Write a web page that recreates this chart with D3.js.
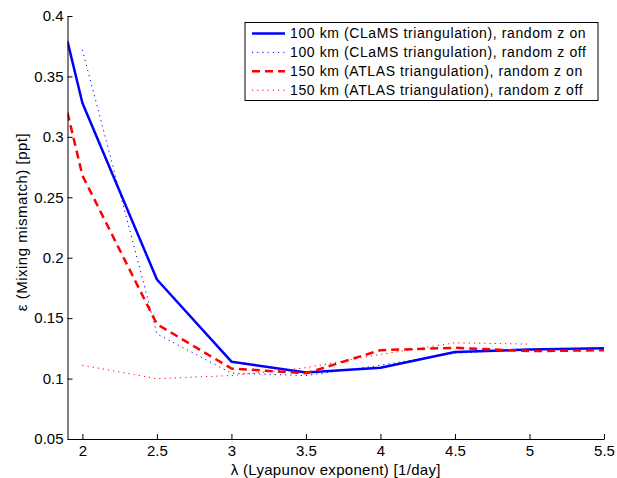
<!DOCTYPE html>
<html>
<head>
<meta charset="utf-8">
<script src="https://cdn.jsdelivr.net/npm/d3@7"></script>
<style>
  body { margin: 0; background: #fff; }
  svg { font-family: "Liberation Sans", Arial, sans-serif; }
</style>
</head>
<body>
<div id="chart"></div>
<script>
// Lyapunov exponent values (x) for each series
const xOn = [1.9, 2, 2.5, 3, 3.5, 4, 4.5, 5, 5.5];
const xOff100 = [2, 2.5, 3, 3.5, 4, 4.5, 5, 5.5];
const xOff150 = [2, 2.5, 3, 3.5, 4, 4.5, 5];

// Mixing mismatch values (ppt)
const clamsOn = [0.379, 0.328, 0.182, 0.114, 0.105, 0.109, 0.122, 0.124, 0.125];
const clamsOff = [0.372, 0.137, 0.1045, 0.1025, 0.111, 0.121, 0.124, 0.125];
const atlasOn = [0.320, 0.268, 0.145, 0.1083, 0.1044, 0.1235, 0.1255, 0.1227, 0.1235];
const atlasOff = [0.111, 0.0999, 0.1025, 0.109, 0.120, 0.1296, 0.1285];

const xTicks = [2, 2.5, 3, 3.5, 4, 4.5, 5, 5.5];
const xTickLabels = ["2", "2.5", "3", "3.5", "4", "4.5", "5", "5.5"];
const yTicks = [0.05, 0.1, 0.15, 0.2, 0.25, 0.3, 0.35, 0.4];
const yTickLabels = ["0.05", "0.1", "0.15", "0.2", "0.25", "0.3", "0.35", "0.4"];

const series = [
    { name: "100 km (CLaMS triangulation), random z on", xs: xOn, ys: clamsOn, color: "#0000ff", width: 2.5, dash: null },
    { name: "100 km (CLaMS triangulation), random z off", xs: xOff100, ys: clamsOff, color: "#0000ff", width: 1, dash: "1.2,4" },
    { name: "150 km (ATLAS triangulation), random z on", xs: xOn, ys: atlasOn, color: "#ff0000", width: 2.5, dash: "8,5" },
    { name: "150 km (ATLAS triangulation), random z off", xs: xOff150, ys: atlasOff, color: "#ff0000", width: 1, dash: "1.2,4" }
];

const width = 617;
const height = 478;
const m = { top: 16, right: 13, bottom: 39, left: 67.5 };

const svg = d3.select("#chart").append("svg")
    .attr("width", width)
    .attr("height", height);

const x = d3.scaleLinear().domain([1.9, 5.5]).range([m.left, width - m.right]);
const y = d3.scaleLinear().domain([0.05, 0.4]).range([height - m.bottom, m.top]);

// Clip lines to the plot area
svg.append("clipPath").attr("id", "plot-clip")
    .append("rect")
    .attr("x", m.left).attr("y", m.top)
    .attr("width", width - m.right - m.left)
    .attr("height", height - m.bottom - m.top);

const line = d3.line()
    .x(d => x(d[0]))
    .y(d => y(d[1]));

const linesGroup = svg.append("g").attr("clip-path", "url(#plot-clip)");

series.forEach(s => {
    linesGroup.append("path")
        .datum(s.xs.map((v, i) => [v, s.ys[i]]))
        .attr("fill", "none")
        .attr("stroke", s.color)
        .attr("stroke-width", s.width)
        .attr("stroke-dasharray", s.dash)
        .attr("stroke-linejoin", "round")
        .attr("d", line);
});

// Axes, MATLAB style: ticks pointing inward
const xAxis = svg.append("g")
    .attr("transform", `translate(0, ${height - m.bottom})`)
    .call(d3.axisBottom(x)
        .tickValues(xTicks)
        .tickFormat((d, i) => xTickLabels[i])
        .tickSizeInner(-5)
        .tickSizeOuter(0)
        .tickPadding(6));

const yAxis = svg.append("g")
    .attr("transform", `translate(${m.left}, 0)`)
    .call(d3.axisLeft(y)
        .tickValues(yTicks)
        .tickFormat((d, i) => yTickLabels[i])
        .tickSizeInner(-5)
        .tickSizeOuter(0)
        .tickPadding(4));

[xAxis, yAxis].forEach(a => {
    a.selectAll("text").attr("font-size", "15px").attr("fill", "#000")
        .attr("font-family", "Liberation Sans, Arial, sans-serif");
    a.selectAll("line, path").attr("stroke", "#000");
});

// Axis labels
svg.append("text")
    .attr("x", (m.left + width - m.right) / 2)
    .attr("y", 475)
    .attr("text-anchor", "middle")
    .attr("font-size", "15px")
    .attr("letter-spacing", "0.3px")
    .text("λ (Lyapunov exponent) [1/day]");

const yLabelX = 27;
const yLabelY = 222;
svg.append("text")
    .attr("x", yLabelX)
    .attr("y", yLabelY)
    .attr("text-anchor", "middle")
    .attr("transform", `rotate(-90, ${yLabelX}, ${yLabelY})`)
    .attr("font-size", "15px")
    .attr("letter-spacing", "0.5px")
    .text("ε (Mixing mismatch) [ppt]");

// Legend
const legend = svg.append("g").attr("transform", "translate(245, 22.5)");
legend.append("rect")
    .attr("width", 353)
    .attr("height", 78)
    .attr("fill", "#fff")
    .attr("stroke", "#000")
    .attr("stroke-width", 1);

series.forEach((s, i) => {
    const ry = 11 + i * 18.9;
    legend.append("line")
        .attr("x1", 7).attr("x2", 40)
        .attr("y1", ry).attr("y2", ry)
        .attr("stroke", s.color)
        .attr("stroke-width", s.width)
        .attr("stroke-dasharray", s.dash);
    legend.append("text")
        .attr("x", 45)
        .attr("y", ry)
        .attr("dy", "0.35em")
        .attr("font-size", "14px")
        .attr("letter-spacing", "0.6px")
        .text(s.name);
});
</script>
</body>
</html>
